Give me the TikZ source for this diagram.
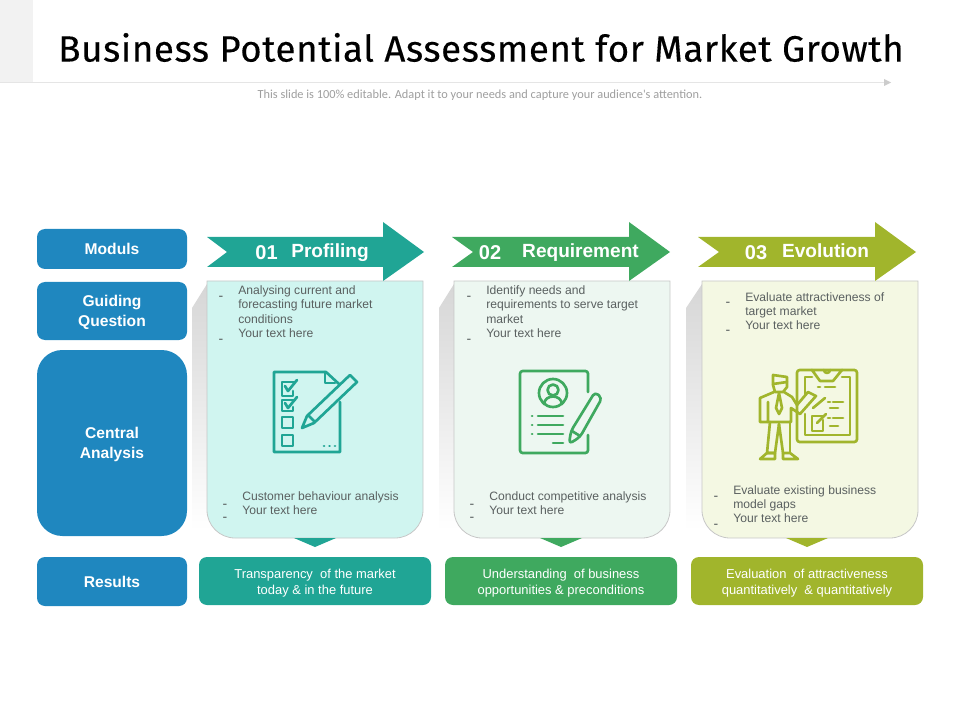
\documentclass[tikz,border=0pt]{standalone}
\usepackage{fontspec}
\setmainfont{Liberation Sans}
\newfontfamily\titlefont[LetterSpace=1.7,FakeBold=0.25]{Fira Sans}
\newfontfamily\notefont{Carlito}
\usepackage{tikz}
\usetikzlibrary{positioning,arrows}
\definecolor{bluebox}{HTML}{1F87BF}
\definecolor{tealc}{HTML}{20A595}
\definecolor{greenc}{HTML}{3FA95F}
\definecolor{olivec}{HTML}{A1B52C}
\definecolor{tealfill}{HTML}{D0F5F0}
\definecolor{greenfill}{HTML}{EDF7F1}
\definecolor{olivefill}{HTML}{F4F8E3}
\definecolor{bodytext}{HTML}{5A6060}
\begin{document}
\begin{tikzpicture}[%
    x=0.75pt, y=-0.75pt,
    align=center,
    leftbox/.style={fill=bluebox, text=white, font=\bfseries\fontsize{11.7}{14.5}\selectfont, minimum width=112.5pt, rounded corners=6pt, inner sep=0pt},
    lefttext/.style={text=white, font=\bfseries\fontsize{11.7}{14.5}\selectfont, inner sep=0pt},
    resulttext/.style={text=white, font=\fontsize{9.7}{12}\selectfont, inner sep=0pt},
    headtext/.style={text=white, font=\bfseries\fontsize{14.3}{16}\selectfont, inner sep=0pt},
    numtext/.style={text=white, font=\bfseries\fontsize{15}{18}\selectfont, inner sep=0pt},
    bodynode/.style={text=bodytext, align=left, anchor=north west, font=\fontsize{9.1}{10.75}\selectfont, inner sep=0pt},
    dashnode/.style={text=bodytext, font=\fontsize{10.5}{10}\selectfont, inner sep=0pt},
    card/.style={draw=black!22, line width=0.6pt},
    backshade/.style={top color=black!16, bottom color=white},
    icon/.style={line width=2pt, line join=round, line cap=round}
  ]
    \useasboundingbox (0,0) rectangle (960,720);
    \fill[black!5] (0,0) rectangle (33,82);

    % title
    \node [font=\titlefont\fontsize{27.5}{32}\selectfont, anchor=center, inner sep=0pt] (title) at (481,47.5) {Business Potential Assessment for Market Growth};
    \draw [black!10, line width=1.1pt] (0,82.5) -- (884,82.5);
    \fill [black!20] (884,79) -- (891,82.5) -- (884,86) -- cycle;
    \node [font=\notefont\fontsize{9.25}{11}\selectfont, text=black!38, inner sep=0pt] (note) at (480,95.5) {This slide is 100\% editable. Adapt it to your needs and capture your audience's attention.};

    % left column
    \node [leftbox, minimum height=30pt] (moduls) at (112,249) {Moduls};
    \fill [bluebox, rounded corners=6pt] (37,282) rectangle (187,340);
    \node [lefttext] (guiding) at (112,312.5) {Guiding\\Question};
    \fill [bluebox, rounded corners=19pt] (37,350) rectangle (187,536);
    \node [lefttext] (central) at (112,444.5) {Central\\Analysis};
    \node [leftbox, minimum height=36.75pt] (results) at (112,581.5) {Results};

    % shadows
    \shade [backshade] (192,308) -- (207,284) -- (215,530) -- (192,530) -- cycle;
    \shade [backshade] (439,308) -- (454,284) -- (462,530) -- (439,530) -- cycle;
    \shade [backshade] (686,308) -- (702,284) -- (710,530) -- (686,530) -- cycle;

    % cards
    \draw [card, fill=tealfill] (207,281) -- (423,281) [rounded corners=21pt] -- (423,538) -- (207,538) [sharp corners] -- cycle;
    \draw [card, fill=greenfill] (454,281) -- (670,281) [rounded corners=21pt] -- (670,538) -- (454,538) [sharp corners] -- cycle;
    \draw [card, fill=olivefill] (702,281) -- (918,281) [rounded corners=21pt] -- (918,538) -- (702,538) [sharp corners] -- cycle;

    % arrows
    \fill [tealc] (207,237) -- (383,237) -- (383,222) -- (424,252) -- (383,281) -- (383,267) -- (207,267) -- (227,252) -- cycle;
    \fill [greenc] (452,237) -- (629,237) -- (629,222) -- (670,252) -- (629,281) -- (629,267) -- (452,267) -- (473,252) -- cycle;
    \fill [olivec] (698,237) -- (875,237) -- (875,222) -- (916,252) -- (875,281) -- (875,267) -- (698,267) -- (719,252) -- cycle;

    \node [numtext] (n1) at (266.5,253) {01};
    \node [headtext] (h1) at (330,252.5) {Profiling};
    \node [numtext] (n2) at (490,253) {02};
    \node [headtext] (h2) at (580.5,252.5) {Requirement};
    \node [numtext] (n3) at (756,253) {03};
    \node [headtext] (h3) at (825.5,250.5) {Evolution};

    % bullets
    \node [bodynode] (t1) at (238,285.5) {Analysing current and\\forecasting future market\\conditions\\Your text here};
    \node [dashnode] (d1) at (221,298) {-};
    \node [dashnode] (d2) at (221,341) {-};
    \node [bodynode] (b1) at (242,491.5) {Customer behaviour analysis\\Your text here};
    \node [dashnode] (d3) at (225,506) {-};
    \node [dashnode] (d4) at (225,519) {-};

    \node [bodynode] (t2) at (486,285.5) {Identify needs and\\requirements to serve target\\market\\Your text here};
    \node [dashnode] (d5) at (469,298) {-};
    \node [dashnode] (d6) at (469,341) {-};
    \node [bodynode] (b2) at (489,491.5) {Conduct competitive analysis\\Your text here};
    \node [dashnode] (d7) at (472,506) {-};
    \node [dashnode] (d8) at (472,519) {-};

    \node [bodynode] (t3) at (745,292) {Evaluate attractiveness of\\target market\\Your text here};
    \node [dashnode] (d9) at (728,304) {-};
    \node [dashnode] (d10) at (728,332) {-};
    \node [bodynode] (b3) at (733,485) {Evaluate existing business\\model gaps\\Your text here};
    \node [dashnode] (d11) at (716,498) {-};
    \node [dashnode] (d12) at (716,526) {-};

    % pointers
    \fill [tealc] (294,538) -- (336,538) -- (315,547) -- cycle;
    \fill [greenc] (540,538) -- (582,538) -- (561,547) -- cycle;
    \fill [olivec] (786,538) -- (828,538) -- (807,547) -- cycle;

    % results
    \fill [tealc, rounded corners=6pt] (199,557) rectangle (431,605);
    \fill [greenc, rounded corners=6pt] (445,557) rectangle (677,605);
    \fill [olivec, rounded corners=6pt] (691,557) rectangle (923,605);
    \node [resulttext] (r1) at (315,583) {Transparency\ \ of the market\\today \& in the future};
    \node [resulttext] (r2) at (561,583) {Understanding\ \ of business\\opportunities \& preconditions};
    \node [resulttext] (r3) at (807,583) {Evaluation\ \ of attractiveness\\quantitatively\ \ \& quantitatively};

    % checklist icon
    \begin{scope}[icon, draw=tealc]
      \draw (340,402) -- (340,452) -- (274,452) -- (274,372) -- (326,372) -- (339,384);
      \draw (325,372) -- (325,383) -- (335,383);
      \draw (295,382) -- (282,382) -- (282,396) -- (293,396) -- (293,391);
      \draw (295,400) -- (282,400) -- (282,411) -- (293,411) -- (293,407);
      \draw (282,417) rectangle (293,428);
      \draw (282,435) rectangle (293,446);
      \draw (285,386) -- (288,391) -- (297,380);
      \draw (285,403) -- (288,408) -- (297,397);
      \draw (350,375) -- (357,382) -- (314,423) -- (302,428) -- (307,416) -- cycle;
      \draw (308,415) -- (315,422);
      \draw [dash pattern=on 0.1pt off 4pt] (324,446) -- (335,446);
    \end{scope}

    % profile icon
    \begin{scope}[icon, draw=greenc]
      \draw [rounded corners=2pt] (588,392) -- (588,371) -- (520,371) -- (520,453) -- (588,453) -- (588,435);
      \draw (553,393) circle (14);
      \draw (553,390) circle (5.5);
      \draw (544,404) .. controls (545,394) and (561,394) .. (562,404);
      \draw (538,416) -- (563,416);
      \draw (538,425) -- (563,425);
      \draw (538,434) -- (563,434);
      \draw (553,443) -- (563,443);
      \draw (532,416) -- (532.2,416);
      \draw (532,425) -- (532.2,425);
      \draw (532,434) -- (532.2,434);
      \draw [rounded corners=3pt] (595,392) -- (602,398) -- (580,437) -- (569,444) -- (571,431) -- cycle;
      \draw (572,431) -- (580,436);
    \end{scope}

    % presenter icon
    \begin{scope}[icon, draw=olivec]
      \draw [rounded corners=2pt] (812,370) -- (797,370) -- (797,442) -- (857,442) -- (857,370) -- (842,370);
      \draw (812,377) -- (805,377) -- (805,394);
      \draw (805,414) -- (805,435) -- (850,435) -- (850,377) -- (842,377);
      \draw (812,370) -- (842,370) -- (833,381) -- (820,381) -- cycle;
      \draw (830,370) arc (0:180:3 and 3);
      \draw (818,387) -- (820,387);
      \draw (825,387) -- (835,387);
      \draw (828,402) -- (830,402);
      \draw (833,402) -- (843,402);
      \draw (830,408) -- (838,408);
      \draw (828,418) -- (830,418);
      \draw (833,418) -- (843,418);
      \draw (830,426) -- (838,426);
      \draw (823,416) -- (812,416) -- (812,431) -- (823,431) -- (823,420);
      \draw (817,423) -- (826,414);
      \draw (813,408) -- (825,398);
      % man
      \draw (773,375) -- (787,377) -- (787,387) -- (783,392) -- (775,392) -- (773,385) -- cycle;
      \draw (773,384) -- (787,382);
      \draw (774,392) -- (760,398) -- (760,422) -- (768,422) -- (768,402);
      \draw (784,392) -- (792,397) -- (797,405) -- (808,392) -- (816,396) -- (800,414) -- (791,408) -- (791,422) -- (768,422);
      \draw (779,393) -- (776,408) -- (779,414) -- (782,408) -- cycle;
      \draw (770,422) -- (767,453) -- (775,453);
      \draw (790,422) -- (790,453) -- (783,453);
      \draw (779,424) -- (775,453);
      \draw (779,424) -- (783,453);
      \draw (760,459) -- (775,459) -- (775,453) -- (767,453) -- cycle;
      \draw (798,459) -- (783,459) -- (783,453) -- (790,453) -- cycle;
    \end{scope}
\end{tikzpicture}
\end{document}
